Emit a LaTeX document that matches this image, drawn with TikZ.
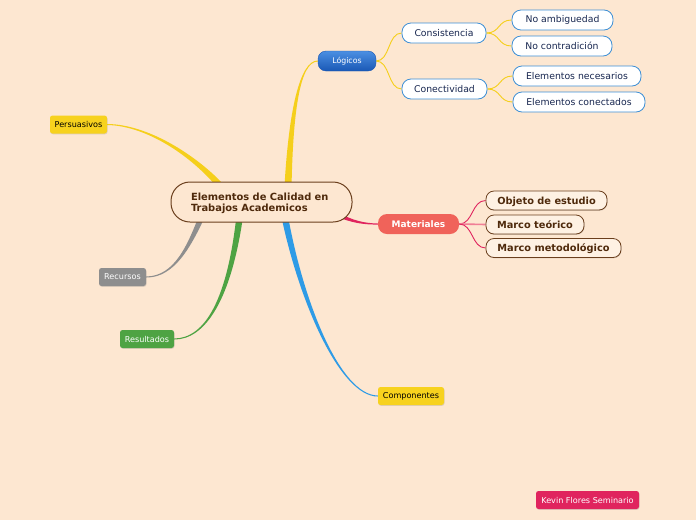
\documentclass[tikz,border=0pt]{standalone}
\usepackage{fontspec}
\setmainfont{DejaVu Sans}
\usetikzlibrary{calc,shadows}
\pgfdeclarelayer{bglayer}
\pgfdeclarelayer{edgelayer}
\pgfsetlayers{bglayer,edgelayer,main}
\definecolor{bgc}{HTML}{FDE7D1}
\definecolor{brn}{HTML}{6B3F1D}
\definecolor{brntxt}{HTML}{4F2A0C}
\definecolor{ylw}{HTML}{F7D21E}
\definecolor{ylwline}{HTML}{F5CF1B}
\definecolor{bluel}{HTML}{3D8FD5}
\definecolor{bluetop}{HTML}{4B8FE2}
\definecolor{bluebot}{HTML}{1A58B5}
\definecolor{navy}{HTML}{17264F}
\definecolor{salmon}{HTML}{F0635A}
\definecolor{crim}{HTML}{E0245E}
\definecolor{pinkl}{HTML}{F07E96}
\definecolor{gry}{HTML}{8E8E8E}
\definecolor{grn}{HTML}{4EA343}
\definecolor{blueline}{HTML}{2E9BE6}
\newcommand\taperbranch[6]{%
  \coordinate (tbS) at #2; \coordinate (tbA) at #3;
  \coordinate (tbB) at #4; \coordinate (tbE) at #5;
  \coordinate (tbsa) at ($(tbS)!#6!90:(tbA)$);
  \coordinate (tbsb) at ($(tbS)!#6!-90:(tbA)$);
  \coordinate (tbea) at ($(tbE)!0.5pt!-90:(tbB)$);
  \coordinate (tbeb) at ($(tbE)!0.5pt!90:(tbB)$);
  \fill[#1] (tbsa) .. controls ($(tbA)+0.6*(tbsa)-0.6*(tbS)$) and ($(tbB)+1.5*(tbea)-1.5*(tbE)$) .. (tbea)
    -- (tbeb) .. controls ($(tbB)+1.5*(tbeb)-1.5*(tbE)$) and ($(tbA)+0.6*(tbsb)-0.6*(tbS)$) .. (tbsb) -- cycle;}
\tikzset{
  central/.style={draw=brn, line width=1pt, fill=bgc, rounded corners=19pt,
    minimum width=181pt, minimum height=40pt, text=brntxt, align=left, text width=141pt,
    text height=8pt, text depth=12pt,
    font=\fontsize{9.9}{11.5}\selectfont\bfseries, inner sep=0pt},
  logic/.style={rounded corners=8pt, top color=bluetop, bottom color=bluebot,
    draw=bluebot, minimum width=58pt, minimum height=20pt, text=white,
    font=\fontsize{7.8}{9}\selectfont, inner sep=0pt},
  bchild/.style={draw=bluel, line width=0.8pt, fill=white, rounded corners=9pt,
    minimum height=20pt, text=navy, font=\fontsize{9.3}{11}\selectfont, inner sep=0pt},
  mat/.style={fill=salmon, rounded corners=9pt, minimum width=81pt, minimum height=20pt,
    text=white, font=\fontsize{9}{10}\selectfont\bfseries, inner sep=0pt},
  mchild/.style={draw=brn, line width=0.8pt, fill=bgc!60!white, rounded corners=8pt,
    minimum height=19pt, text=brntxt, font=\fontsize{9.8}{11}\selectfont\bfseries, inner sep=0pt,
    text height=7.5pt, text depth=0.5pt,
    drop shadow={opacity=0.25, shadow xshift=0.6pt, shadow yshift=-0.8pt}},
  tag/.style={rounded corners=2.5pt, minimum height=18pt, inner sep=0pt,
    font=\fontsize{8.1}{9}\selectfont,
    drop shadow={opacity=0.25, shadow xshift=0.5pt, shadow yshift=-0.8pt}},
  thinline/.style={line width=0.9pt},
}
\begin{document}
\begin{tikzpicture}[x=1pt,y=-1pt]
\begin{pgfonlayer}{bglayer}
\fill[bgc] (0,0) rectangle (696,520);
\end{pgfonlayer}
\useasboundingbox (0,0) rectangle (696,520);

% nodes
\node[central] (c) at (261.5,202) {Elementos de Calidad en\\Trabajos Academicos};
\node[logic] (log) at (347,61) {Lógicos};
\node[bchild, minimum width=84pt] (cons) at (444,33) {Consistencia};
\node[bchild, minimum width=85pt] (conec) at (444.5,89) {Conectividad};
\node[bchild, minimum width=101pt] (amb) at (562.5,20) {No ambiguedad};
\node[bchild, minimum width=100pt] (contr) at (562,46) {No contradición};
\node[bchild, minimum width=128pt] (nec) at (577,76) {Elementos necesarios};
\node[bchild, minimum width=132pt] (cnt) at (579,102) {Elementos conectados};
\node[mat] (mat) at (418.5,224) {Materiales};
\node[mchild, minimum width=121pt] (obj) at (546.5,200.5) {Objeto de estudio};
\node[mchild, minimum width=98pt] (teo) at (535,224.5) {Marco teórico};
\node[mchild, minimum width=135pt] (met) at (553.5,248) {Marco metodológico};
\node[tag, fill=ylw, text=black, minimum width=57pt] (per) at (78.5,124.5) {Persuasivos};
\node[tag, fill=gry, text=white, minimum width=47pt] (rec) at (122.5,277) {Recursos};
\node[tag, fill=grn, text=white, minimum width=54pt] (res) at (147,339) {Resultados};
\node[tag, fill=ylw, text=black, minimum width=66pt] (comp) at (411,396) {Componentes};
\node[tag, fill=crim, text=white, minimum width=103pt] (kev) at (587.5,500) {Kevin Flores Seminario};

\begin{pgfonlayer}{edgelayer}
% main tapered branches
\taperbranch{ylwline}{($(c.center)+(26,0)$)}{(290,110)}{(300,61)}{(log.west)}{3.8pt}
\taperbranch{ylwline}{($(c.center)+(-36,-10)$)}{(200,160)}{(150,125)}{(per.east)}{3.6pt}
\taperbranch{gry}{($(c.center)+(-57,8)$)}{(190,245)}{(175,277)}{(rec.east)}{3.2pt}
\taperbranch{grn}{($(c.center)+(-21,8)$)}{(230,300)}{(205,339)}{(res.east)}{3.4pt}
\taperbranch{blueline}{($(c.center)+(22,8)$)}{(300,300)}{(340,396)}{(comp.west)}{3.4pt}
\taperbranch{crim}{($(c.center)+(75,12)$)}{(352,222)}{(365,224)}{(mat.west)}{2.2pt}
% secondary
\draw[ylwline, thinline] (log.east) .. controls +(14,0) and +(-14,0) .. (cons.west);
\draw[ylwline, thinline] (log.east) .. controls +(14,0) and +(-14,0) .. (conec.west);
\draw[ylwline, thinline] (cons.east) .. controls +(14,0) and +(-14,0) .. (amb.west);
\draw[ylwline, thinline] (cons.east) .. controls +(14,0) and +(-14,0) .. (contr.west);
\draw[ylwline, thinline] (conec.east) .. controls +(14,0) and +(-14,0) .. (nec.west);
\draw[ylwline, thinline] (conec.east) .. controls +(14,0) and +(-14,0) .. (cnt.west);
\draw[crim, thinline] (mat.east) .. controls +(14,0) and +(-14,0) .. (obj.west);
\draw[pinkl, line width=1.6pt] (mat.east) -- (teo.west);
\draw[crim, thinline] (mat.east) .. controls +(14,0) and +(-14,0) .. (met.west);
\end{pgfonlayer}
\end{tikzpicture}
\end{document}
